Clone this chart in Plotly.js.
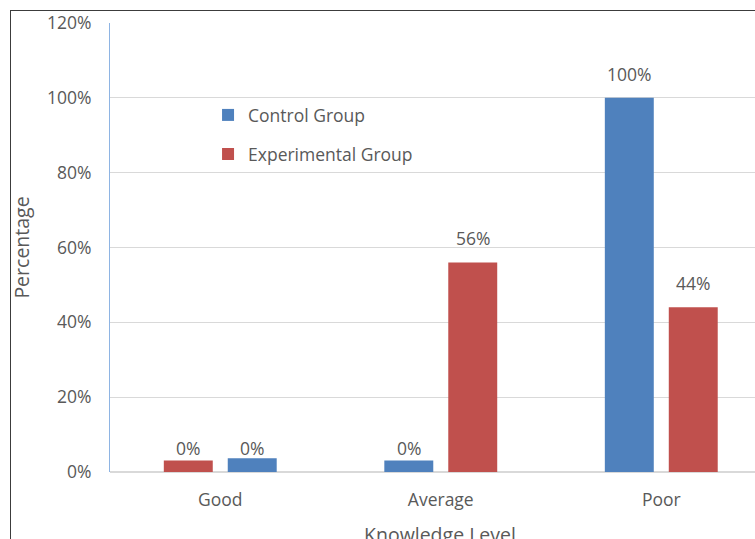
<!DOCTYPE html>
<html>
<head>
<meta charset="utf-8">
<script src="https://cdn.plot.ly/plotly-3.0.1.min.js"></script>
<style>
html,body{margin:0;padding:0;background:#fff;overflow:hidden;width:755px;height:539px;}
#chart{position:absolute;left:0;top:0;width:755px;height:539px;}
#frame{position:absolute;left:10px;top:10px;width:900px;height:700px;border-left:1px solid #3c3c3c;border-top:1px solid #3c3c3c;pointer-events:none;}
</style>
</head>
<body>
<div id="chart"></div>
<div id="frame"></div>
<script>
// Data
const categories = ["Good", "Average", "Poor"];
const controlPercent = [0, 0, 100];             // labelled values (%)
const experimentalPercent = [0, 56, 44];        // labelled values (%)
const controlBarHeights = [3.7, 3.1, 100];      // bar heights as drawn (%)
const experimentalBarHeights = [3.1, 56, 44];   // bar heights as drawn (%)
const yTickValues = [0, 20, 40, 60, 80, 100, 120];
const yTickLabels = ["0%", "20%", "40%", "60%", "80%", "100%", "120%"];

const FONT = "Open Sans, Noto Sans, sans-serif";
const GRAY = "#595959";
const BW = 0.222;
const LEFT = -0.256, RIGHT = 0.034;
const SHIFT = 32; // px shift of label from category centre

const controlOffsets = [RIGHT, LEFT, LEFT];
const experimentalOffsets = [LEFT, RIGHT, RIGHT];

const traces = [
  {
    type: "bar", name: "Control Group", x: categories, y: controlBarHeights,
    marker: {color: "#4f81bd"}, width: BW, offset: controlOffsets,
    legend: "legend", hoverinfo: "skip"
  },
  {
    type: "bar", name: "Experimental Group", x: categories, y: experimentalBarHeights,
    marker: {color: "#c0504d"}, width: BW, offset: experimentalOffsets,
    legend: "legend2", hoverinfo: "skip"
  }
];

const annotations = [];
function addLabels(values, offsets) {
  values.forEach((v, i) => {
    annotations.push({
      xref: "x", yref: "y", x: categories[i], y: v,
      text: v + "%", showarrow: false, yanchor: "bottom", xanchor: "center",
      xshift: offsets[i] < 0 ? -SHIFT : SHIFT, yshift: 10,
      font: {family: FONT, size: 17.5, color: GRAY}
    });
  });
}
addLabels(controlPercent, controlOffsets);
addLabels(experimentalPercent, experimentalOffsets);

// x-axis title (placed lower than the margin allows for an axis title)
annotations.push({
  xref: "paper", yref: "paper", x: 0.5, y: 0, xshift: 7, yshift: -47,
  xanchor: "center", yanchor: "top", showarrow: false,
  text: "Knowledge Level",
  font: {family: FONT, size: 19.5, color: GRAY}
});

const legendCommon = {
  xref: "paper", yref: "paper", xanchor: "left", yanchor: "middle",
  bgcolor: "rgba(0,0,0,0)", font: {family: FONT, size: 17.5, color: GRAY}
};

const layout = {
  width: 755, height: 539,
  margin: {l: 110, r: 0, t: 23, b: 67},
  paper_bgcolor: "#ffffff", plot_bgcolor: "#ffffff",
  barmode: "overlay",
  showlegend: true,
  legend: Object.assign({x: 0.152, y: 0.795}, legendCommon),
  legend2: Object.assign({x: 0.152, y: 0.708}, legendCommon),
  annotations: annotations,
  xaxis: {
    type: "category", range: [-0.5, 2.425], automargin: false,
    showgrid: false, zeroline: false, showline: false, ticks: "",
    ticklabelstandoff: 15,
    tickfont: {family: FONT, size: 17.5, color: GRAY}
  },
  yaxis: {
    range: [0, 120], tickvals: yTickValues, ticktext: yTickLabels, automargin: false,
    showgrid: true, gridcolor: "#d9d9d9", gridwidth: 1,
    zeroline: true, zerolinecolor: "#d9d9d9", zerolinewidth: 1.5,
    showline: true, linecolor: "#8eb4e3", linewidth: 1,
    ticks: "", ticklabelstandoff: 14,
    tickfont: {family: FONT, size: 17.5, color: GRAY},
    title: {text: "Percentage", font: {family: FONT, size: 19.5, color: GRAY}, standoff: 12}
  }
};

Plotly.newPlot("chart", traces, layout, {displayModeBar: false, staticPlot: true});
</script>
</body>
</html>
